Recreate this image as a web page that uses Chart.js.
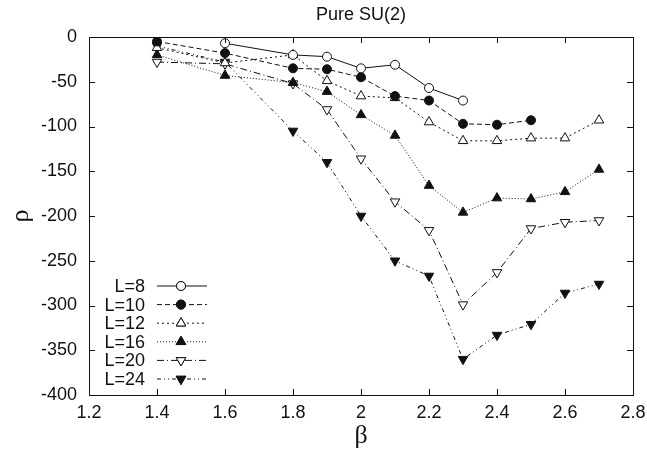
<!DOCTYPE html>
<html>
<head>
<meta charset="utf-8">
<script src="https://cdn.jsdelivr.net/npm/chart.js@4/dist/chart.umd.min.js"></script>
<style>
  html, body { margin: 0; padding: 0; background: #fff; }
  #wrap { width: 647px; height: 456px; }
</style>
</head>
<body>
<div id="wrap"><canvas id="chart" width="647" height="456"></canvas></div>
<script>
const beta = [1.4, 1.6, 1.8, 1.9, 2.0, 2.1, 2.2, 2.3, 2.4, 2.5, 2.6, 2.7];
const rhoL8  = [null, -7, -20, -22, -35, -31, -57, -71, null, null, null, null];
const rhoL10 = [-5, -18, -35, -36, -45, -66, -71, -97, -98, -93, null, null];
const rhoL12 = [-12, -29, -20, -49, -66, -68, -95, -116, -116, -113, -113, -93];
const rhoL16 = [-20, -43, -51, -61, -87, -110, -166, -196, -180, -181, -173, -148];
const rhoL20 = [-28, -30, -52, -81, -136, -184, -216, -299, -263, -214, -207, -205];
const rhoL24 = [-10, -28, -105, -140, -200, -250, -267, -360, -333, -321, -286, -276];
const xTicks = [1.2, 1.4, 1.6, 1.8, 2.0, 2.2, 2.4, 2.6, 2.8];
const yTicks = [0, -50, -100, -150, -200, -250, -300, -350, -400];

const ink = "#111";

const toPoints = (vals) => beta.map((b, i) => ({ x: b, y: vals[i] })).filter(p => p.y !== null);

const makeSet = (label, vals, style, rot, filled, dash, radius) => ({
  label: label,
  data: toPoints(vals),
  borderColor: ink,
  borderWidth: 1,
  borderDash: dash,
  pointStyle: style,
  rotation: rot,
  pointRadius: radius,
  pointBorderWidth: 1,
  pointBorderColor: ink,
  pointBackgroundColor: filled ? ink : "#fff",
  showLine: true,
  fill: false,
  tension: 0,
});

const datasets = [
  makeSet("L=8", rhoL8, "circle", 0, false, [], 4.5),
  makeSet("L=10", rhoL10, "circle", 0, true, [5, 3], 4.5),
  makeSet("L=12", rhoL12, "triangle", 0, false, [2, 3], 5.5),
  makeSet("L=16", rhoL16, "triangle", 0, true, [1, 2], 5.5),
  makeSet("L=20", rhoL20, "triangle", 180, false, [7, 3, 1, 3], 5.5),
  makeSet("L=24", rhoL24, "triangle", 180, true, [4, 3, 1, 3, 1, 3], 5.5),
];

// frame, inward ticks, title and legend in gnuplot style
const decor = {
  id: "decor",
  afterDatasetsDraw(chart) {
    const ctx = chart.ctx;
    const a = chart.chartArea;
    const xs = chart.scales.x, ys = chart.scales.y;
    ctx.save();
    ctx.strokeStyle = ink;
    ctx.lineWidth = 1;
    ctx.setLineDash([]);
    ctx.strokeRect(a.left + 0.5, a.top + 0.5, a.right - a.left, a.bottom - a.top);
    const tl = 6;
    ctx.beginPath();
    xTicks.forEach(v => {
      const px = Math.round(xs.getPixelForValue(v)) + 0.5;
      ctx.moveTo(px, a.bottom); ctx.lineTo(px, a.bottom - tl);
      ctx.moveTo(px, a.top); ctx.lineTo(px, a.top + tl);
    });
    yTicks.forEach(v => {
      const py = Math.round(ys.getPixelForValue(v)) + 0.5;
      ctx.moveTo(a.left, py); ctx.lineTo(a.left + tl, py);
      ctx.moveTo(a.right, py); ctx.lineTo(a.right - tl, py);
    });
    ctx.stroke();

    // title
    ctx.fillStyle = ink;
    ctx.font = "18px 'Liberation Sans', Arial, sans-serif";
    ctx.textAlign = "center";
    ctx.textBaseline = "middle";
    ctx.fillText("Pure SU(2)", (a.left + a.right) / 2, 15);

    // legend
    ctx.font = "18px 'Liberation Sans', Arial, sans-serif";
    const textRight = 145, lineL = 157, lineR = 207, mark = 181;
    chart.data.datasets.forEach((ds, i) => {
      const y = 286 + i * 18.6;
      ctx.fillStyle = ink;
      ctx.textAlign = "right";
      ctx.fillText(ds.label, textRight, y + 1);
      ctx.beginPath();
      ctx.setLineDash(ds.borderDash);
      ctx.moveTo(lineL, y); ctx.lineTo(lineR, y);
      ctx.stroke();
      ctx.setLineDash([]);
      Chart.helpers.drawPoint(ctx, {
        pointStyle: ds.pointStyle,
        rotation: ds.rotation,
        radius: ds.pointRadius,
        borderWidth: 1,
      }, mark, y);
      ctx.fillStyle = ds.pointBackgroundColor;
      ctx.strokeStyle = ink;
      ctx.fill();
      ctx.stroke();
    });
    ctx.restore();
  },
};

new Chart(document.getElementById("chart"), {
  type: "scatter",
  data: { datasets: datasets },
  plugins: [decor],
  options: {
    responsive: false,
    animation: false,
    layout: { padding: { top: 37, right: 14, left: 0, bottom: 0 } },
    plugins: { legend: { display: false }, tooltip: { enabled: false } },
    scales: {
      x: {
        type: "linear",
        min: 1.2,
        max: 2.8,
        afterBuildTicks: (s) => { s.ticks = xTicks.map(v => ({ value: v })); },
        afterFit: (s) => { s.height = 61; s.paddingLeft = 0; s.paddingRight = 0; },
        grid: { display: false, drawTicks: false },
        border: { display: false },
        ticks: {
          color: ink,
          padding: 7,
          font: { family: "'Liberation Sans', Arial, sans-serif", size: 18 },
          callback: (v) => String(+Number(v).toFixed(1)),
        },
        title: {
          display: true,
          text: "β",
          color: ink,
          font: { family: "'Liberation Serif', 'DejaVu Serif', serif", size: 26 },
          padding: { top: 0, bottom: 4 },
        },
      },
      y: {
        type: "linear",
        min: -400,
        max: 0,
        afterBuildTicks: (s) => { s.ticks = yTicks.map(v => ({ value: v })); },
        afterFit: (s) => { s.width = 89; s.paddingTop = 0; s.paddingBottom = 0; },
        grid: { display: false, drawTicks: false },
        border: { display: false },
        ticks: {
          color: ink,
          padding: 12,
          font: { family: "'Liberation Sans', Arial, sans-serif", size: 18 },
        },
        title: {
          display: true,
          text: "ρ",
          color: ink,
          font: { family: "'Liberation Serif', 'DejaVu Serif', serif", size: 26 },
          padding: { top: 6, bottom: 0 },
        },
      },
    },
  },
});
</script>
</body>
</html>
